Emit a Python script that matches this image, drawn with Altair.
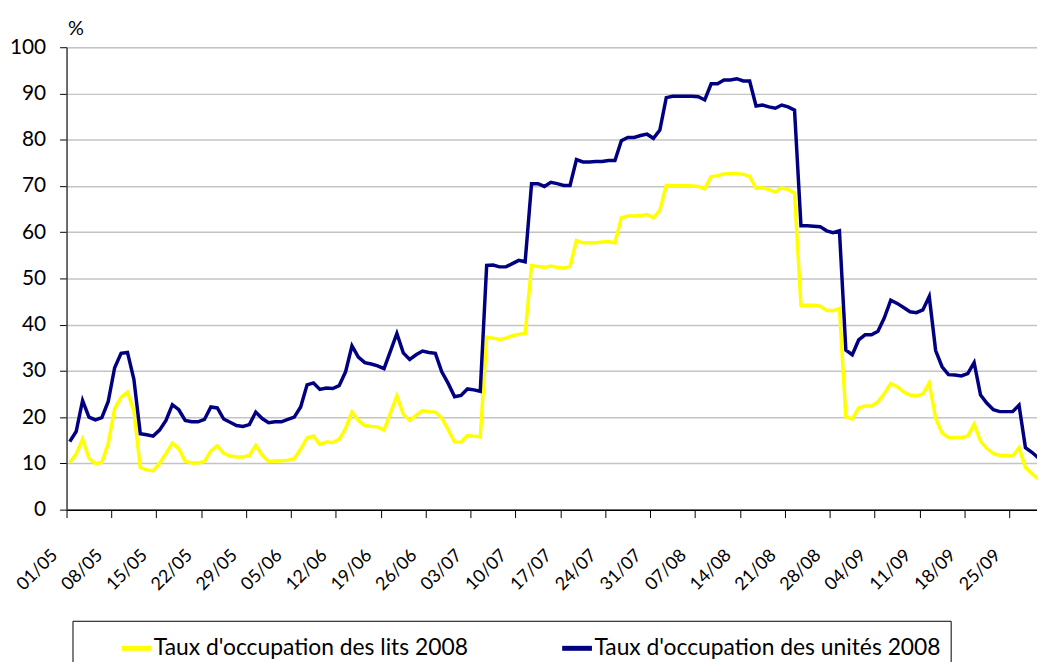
import altair as alt
import pandas as pd

SERIE_LITS = "Taux d'occupation des lits 2008"
SERIE_UNITES = "Taux d'occupation des unités 2008"

# Daily values, starting 01/05/2008 (index 0) ---------------------------------
LITS = [
    10.2, 12.0, 15.2, 11.1, 10.0, 10.2, 14.3, 21.8, 24.3, 25.4,
    21.4, 9.1, 8.6, 8.4, 10.0, 12.1, 14.4, 13.2, 10.5, 10.1,
    10.1, 10.4, 12.7, 13.8, 12.2, 11.6, 11.4, 11.4, 11.7, 13.9,
    11.8, 10.4, 10.5, 10.5, 10.7, 11.0, 13.1, 15.5, 15.9, 14.1,
    14.6, 14.5, 15.2, 17.5, 21.1, 19.3, 18.2, 18.0, 17.9, 17.2,
    20.9, 24.6, 20.6, 19.3, 20.4, 21.4, 21.2, 21.1, 19.8, 17.3,
    14.6, 14.6, 16.0, 15.9, 15.7, 37.3, 37.1, 36.8, 37.1, 37.6,
    37.9, 38.1, 52.8, 52.6, 52.4, 52.7, 52.4, 52.2, 52.6, 58.2,
    57.7, 57.7, 57.7, 57.9, 58.0, 57.7, 63.1, 63.5, 63.5, 63.6,
    63.8, 63.1, 64.7, 70.1, 70.1, 70.1, 70.1, 70.0, 69.9, 69.4,
    72.0, 72.2, 72.6, 72.7, 72.7, 72.5, 72.1, 69.5, 69.6, 69.2,
    68.7, 69.6, 69.2, 68.5, 44.2, 44.2, 44.2, 44.0, 43.1, 43.0,
    43.5, 20.1, 19.6, 22.0, 22.4, 22.4, 23.3, 25.1, 27.3, 26.6,
    25.5, 24.8, 24.6, 25.0, 27.4, 19.8, 16.6, 15.6, 15.6, 15.6,
    15.9, 18.5, 14.8, 13.2, 12.1, 11.7, 11.7, 11.6, 13.4, 9.1,
    7.8, 6.6,
]

UNITES = [
    14.7, 16.9, 23.6, 20.0, 19.4, 19.9, 23.4, 30.7, 33.8, 34.0,
    28.2, 16.4, 16.2, 15.9, 17.2, 19.3, 22.7, 21.6, 19.3, 19.0,
    19.0, 19.5, 22.2, 22.0, 19.6, 18.9, 18.2, 18.0, 18.4, 21.1,
    19.7, 18.8, 19.0, 19.0, 19.5, 20.0, 22.2, 27.0, 27.4, 26.0,
    26.3, 26.2, 26.8, 29.8, 35.4, 33.0, 31.8, 31.5, 31.1, 30.5,
    34.3, 38.1, 33.9, 32.5, 33.5, 34.3, 34.0, 33.8, 29.8, 27.3,
    24.4, 24.7, 26.1, 25.9, 25.6, 52.8, 52.9, 52.5, 52.5, 53.2,
    53.9, 53.6, 70.5, 70.5, 69.9, 70.8, 70.5, 70.1, 70.1, 75.7,
    75.2, 75.2, 75.3, 75.3, 75.5, 75.5, 79.8, 80.5, 80.5, 80.9,
    81.2, 80.3, 82.1, 89.1, 89.4, 89.4, 89.4, 89.4, 89.3, 88.6,
    92.1, 92.1, 92.9, 92.9, 93.2, 92.7, 92.7, 87.3, 87.5, 87.1,
    86.8, 87.5, 87.1, 86.4, 61.4, 61.4, 61.3, 61.2, 60.3, 59.9,
    60.3, 34.5, 33.5, 36.7, 37.8, 37.8, 38.6, 41.5, 45.3, 44.6,
    43.7, 42.8, 42.6, 43.2, 46.1, 34.4, 30.9, 29.2, 29.1, 28.9,
    29.4, 31.8, 24.8, 23.0, 21.6, 21.2, 21.2, 21.2, 22.6, 13.4,
    12.4, 11.2,
]

TICK_LABELS = [
    "01/05", "08/05", "15/05", "22/05", "29/05", "05/06", "12/06", "19/06",
    "26/06", "03/07", "10/07", "17/07", "24/07", "31/07", "07/08", "14/08",
    "21/08", "28/08", "04/09", "11/09", "18/09", "25/09",
]
Y_TICKS = [0, 10, 20, 30, 40, 50, 60, 70, 80, 90, 100]

FONT = "Lato"

n = len(LITS)
df = pd.DataFrame({
    "jour": list(range(n)) * 2,
    "serie": [SERIE_LITS] * n + [SERIE_UNITES] * n,
    "taux": LITS + UNITES,
})

tick_vals = [7 * i - 0.5 for i in range(len(TICK_LABELS))]
label_expr = ("[" + ",".join("'" + t + "'" for t in TICK_LABELS) + "]"
              "[round((datum.value + 0.5) / 7)]")

chart = alt.Chart(df).mark_line(strokeWidth=3.5, clip=True).encode(
    x=alt.X(
        "jour:Q",
        scale=alt.Scale(domain=[-0.5, 150.8], nice=False, zero=False),
        axis=alt.Axis(
            values=tick_vals, labelExpr=label_expr, title=None, grid=False,
            labelAngle=315, labelAlign="right", labelBaseline="middle",
            labelOffset=-12, labelPadding=35, tickSize=8, tickColor="black",
            tickWidth=1, domainColor="black", domainWidth=1.5,
            labelFont=FONT, labelFontSize=18, labelColor="black",
            labelOverlap=False, labelFlush=False,
        ),
    ),
    y=alt.Y(
        "taux:Q",
        scale=alt.Scale(domain=[0, 100], nice=False),
        axis=alt.Axis(
            values=Y_TICKS, title="%", titleAngle=0, titleX=1, titleY=-19,
            titleAlign="left", titleBaseline="middle", titleFont=FONT,
            titleFontSize=20, titleFontWeight="normal", titleColor="black",
            grid=True, gridColor="#c4c4c4", gridWidth=1.5,
            tickSize=7, tickColor="black", domainColor="#404040",
            domainWidth=1.5, labelPadding=14, labelFont=FONT,
            labelFontSize=21, labelColor="black",
        ),
    ),
    color=alt.Color(
        "serie:N",
        scale=alt.Scale(domain=[SERIE_LITS, SERIE_UNITES],
                        range=["#FFFF00", "#000080"]),
        legend=alt.Legend(
            title=None, orient="none", legendX=6, legendY=578,
            direction="horizontal", columns=2, strokeColor="black",
            padding=10, symbolType="stroke", symbolSize=900,
            symbolStrokeWidth=5, symbolOffset=37, labelOffset=0,
            columnPadding=55, labelFont=FONT, labelFontSize=23,
            labelColor="black", labelLimit=0,
        ),
    ),
).properties(
    width=978,
    height=466,
    autosize=alt.AutoSizeParams(type="none"),
    padding={"left": 59, "top": 37, "right": 0, "bottom": 151},
).configure_view(stroke=None).configure(background="white")

chart.save("out.html", embed_options={"renderer": "svg", "actions": False})
